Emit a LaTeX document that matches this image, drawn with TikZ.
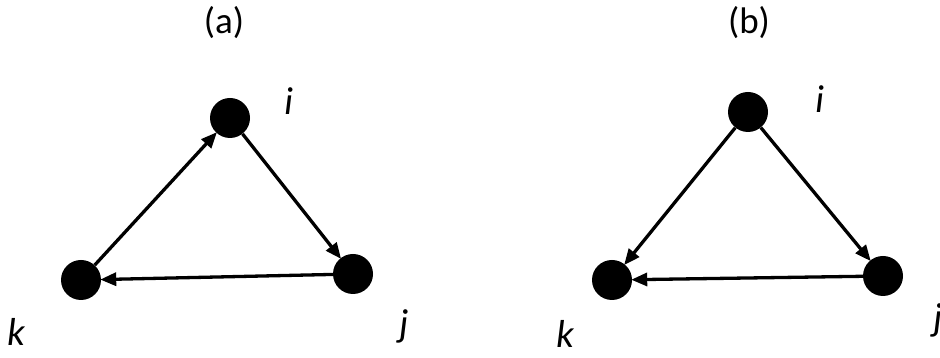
\documentclass[tikz,border=0pt]{standalone}
\usepackage{fontspec}
\setmainfont{Carlito}
\usetikzlibrary{arrows.meta}
\begin{document}
\begin{tikzpicture}[x=1pt,y=1pt,
  vert/.style={circle,fill=black,minimum size=40pt,inner sep=0pt},
  edge/.style={line width=3.3pt,-{Triangle[length=16pt,width=13pt]},shorten >=-1pt},
  lab/.style={font=\fontsize{39}{44}\selectfont\itshape,anchor=base,inner sep=0pt},
  titlelab/.style={font=\fontsize{37}{42}\selectfont,inner sep=0pt}]
\useasboundingbox (0,0) rectangle (940,358);
% (a)
\node[titlelab] (ta) at (224,335) {(a)};
\node[vert] (ai) at (230,240) {};
\node[vert] (aj) at (353,84) {};
\node[vert] (ak) at (81,78) {};
\node[lab] (li) at (289,243) {i};
\node[lab] (lj) at (404,21) {j};
\node[lab] (lk) at (16,12) {k};
\draw[edge] (ak) -- (ai);
\draw[edge] (ai) -- (aj);
\draw[edge] (aj) -- (ak);
% (b)
\node[titlelab] (tb) at (749,335) {(b)};
\node[vert] (bi) at (748,246) {};
\node[vert] (bj) at (883,82) {};
\node[vert] (bk) at (612,78) {};
\node[lab] (mi) at (820,245) {i};
\node[lab] (mj) at (938,27) {j};
\node[lab] (mk) at (565,10) {k};
\draw[edge] (bi) -- (bk);
\draw[edge] (bi) -- (bj);
\draw[edge] (bj) -- (bk);
\end{tikzpicture}
\end{document}
